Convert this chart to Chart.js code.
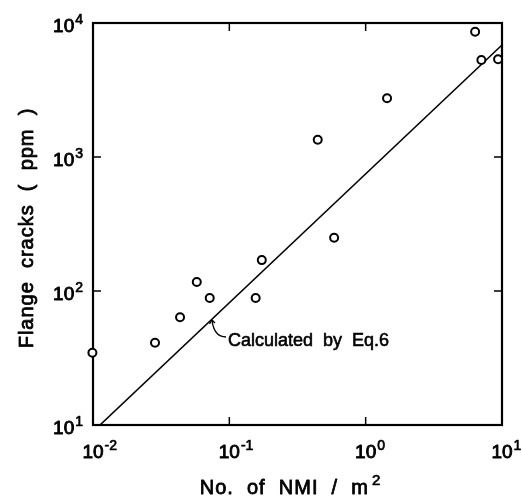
<!DOCTYPE html>
<html>
<head>
<meta charset="utf-8">
<script src="https://cdn.jsdelivr.net/npm/chart.js@4"></script>
<style>
  body { margin: 0; background: #fff; }
  canvas { display: block; }
</style>
</head>
<body>
<canvas id="nmiChart" width="522" height="500"></canvas>
<script>
// measured points: number of NMI per m2 vs flange cracks (ppm)
const nmiPerM2 = [0.0099, 0.0285, 0.0435, 0.0577, 0.0718, 0.156, 0.173, 0.445, 0.587, 1.435, 6.35, 7.06, 9.36];
const crackPpm = [34.6, 41.1, 63.6, 116.7, 88.7, 88.7, 170, 1346, 250, 2742, 8610, 5297, 5357];

// line calculated by Eq.6 (two ends)
const calcNmi = [0.01125, 10];
const calcPpm = [10, 6850];

// decade ticks (exponents of 10)
const xTickExps = [-2, -1, 0, 1];
const yTickExps = [1, 2, 3, 4];

const xTitle = "No.  of  NMI  /  m";
const xTitleSup = "2";
const yTitle = "Flange  cracks  (  ppm  )";
const calcLabel = "Calculated  by  Eq.6";
const calcLabelAt = {x: 0.0978, y: 38.9};
const calcLeaderFrom = {x: 0.0746, y: 60.8};

const FONT = '"Liberation Sans", Arial, sans-serif';

// scanned-looking text: fill plus a thin outline
function ink(ctx, s, x, y, w) {
    ctx.lineWidth = w || 0.7;
    ctx.fillText(s, x, y);
    ctx.strokeText(s, x, y);
}

function drawPower(ctx, exp, px, py, align) {
    // "10" with a raised exponent; 'center' centres the "10" on px, 'right' ends the label at px
    ctx.font = '19px ' + FONT;
    let base = '10';
    let bw = ctx.measureText(base).width;
    ctx.font = '14px ' + FONT;
    let sup = String(exp);
    let sw = ctx.measureText(sup).width;
    let x0 = align === 'right' ? px - bw - sw - 1 : px - bw / 2;
    ctx.textAlign = 'left';
    ctx.textBaseline = 'alphabetic';
    ctx.font = '19px ' + FONT;
    ink(ctx, base, x0, py, 0.9);
    ctx.font = '14px ' + FONT;
    ink(ctx, sup, x0 + bw + 1, py - 8, 0.7);
}

const frame = {
    id: 'frame',
    beforeDatasetsDraw(chart) {
        const {ctx, chartArea: a, scales: {x, y}} = chart;
        ctx.save();
        ctx.strokeStyle = '#000';
        ctx.lineWidth = 2.2;
        ctx.strokeRect(a.left, a.top, a.right - a.left, a.bottom - a.top);
        ctx.lineWidth = 1.5;
        ctx.beginPath();
        xTickExps.forEach(e => {
            let px = x.getPixelForValue(10 ** e);
            ctx.moveTo(px, a.bottom); ctx.lineTo(px, a.bottom - 8);
            ctx.moveTo(px, a.top); ctx.lineTo(px, a.top + 8);
        });
        yTickExps.forEach(e => {
            let py = y.getPixelForValue(10 ** e);
            ctx.moveTo(a.left, py); ctx.lineTo(a.left + 8, py);
            ctx.moveTo(a.right, py); ctx.lineTo(a.right - 8, py);
        });
        ctx.stroke();
        ctx.restore();
    },
    afterDraw(chart) {
        const {ctx, chartArea: a, scales: {x, y}} = chart;
        ctx.save();
        ctx.fillStyle = '#000';
        ctx.strokeStyle = '#000';
        ctx.lineJoin = 'round';

        xTickExps.forEach(e => drawPower(ctx, e < 0 ? '-' + (-e) : e, x.getPixelForValue(10 ** e), a.bottom + 33, 'center'));
        yTickExps.forEach(e => drawPower(ctx, e, a.left - 10, y.getPixelForValue(10 ** e) + 9, 'right'));

        // x title with superscript
        ctx.font = '20px ' + FONT;
        ctx.letterSpacing = '1px';
        let tw = ctx.measureText(xTitle).width;
        ctx.font = '15px ' + FONT;
        let sw = ctx.measureText(xTitleSup).width;
        let tx = (a.left + a.right) / 2 - 7 - (tw + sw + 3) / 2;
        ctx.textAlign = 'left';
        ctx.font = '20px ' + FONT;
        ink(ctx, xTitle, tx, 494, 0.8);
        ctx.font = '15px ' + FONT;
        ink(ctx, xTitleSup, tx + tw + 3, 485, 0.7);

        // y title
        ctx.save();
        ctx.translate(33, (a.top + a.bottom) / 2 + 4);
        ctx.rotate(-Math.PI / 2);
        ctx.font = '20px ' + FONT;
        ctx.letterSpacing = '1px';
        ctx.textAlign = 'center';
        ink(ctx, yTitle, 0, 0, 0.8);
        ctx.restore();

        // label for the calculated line with curved leader
        ctx.letterSpacing = '0px';
        let p0x = x.getPixelForValue(calcLeaderFrom.x), p0y = y.getPixelForValue(calcLeaderFrom.y);
        let lx = x.getPixelForValue(calcLabelAt.x), ly = y.getPixelForValue(calcLabelAt.y);
        ctx.lineWidth = 1.4;
        ctx.beginPath();
        ctx.moveTo(p0x, p0y);
        ctx.quadraticCurveTo(p0x + 2, ly - 9, lx - 2, ly - 9);
        ctx.stroke();
        ctx.beginPath();
        ctx.moveTo(p0x - 2.5, p0y + 4);
        ctx.lineTo(p0x, p0y);
        ctx.lineTo(p0x + 3, p0y + 3);
        ctx.stroke();
        ctx.font = '18px ' + FONT;
        ctx.textAlign = 'left';
        ink(ctx, calcLabel, lx, ly, 0.6);
        ctx.restore();
    }
};

new Chart(document.getElementById('nmiChart'), {
    data: {
        datasets: [
            {
                type: 'scatter',
                data: nmiPerM2.map((v, i) => ({x: v, y: crackPpm[i]})),
                pointStyle: 'circle',
                pointRadius: 4,
                pointBorderWidth: 2,
                pointBorderColor: '#000',
                pointBackgroundColor: '#fff',
                clip: false
            },
            {
                type: 'line',
                data: calcNmi.map((v, i) => ({x: v, y: calcPpm[i]})),
                borderColor: '#000',
                borderWidth: 1.6,
                pointRadius: 0,
                fill: false
            }
        ]
    },
    options: {
        responsive: false,
        animation: false,
        layout: {padding: {left: 93, top: 23, right: 20, bottom: 75}},
        plugins: {legend: {display: false}, tooltip: {enabled: false}},
        scales: {
            x: {
                type: 'logarithmic', min: 0.01, max: 10,
                ticks: {display: false},
                grid: {display: false, drawTicks: false},
                border: {display: false}
            },
            y: {
                type: 'logarithmic', min: 10, max: 10000,
                ticks: {display: false},
                grid: {display: false, drawTicks: false},
                border: {display: false}
            }
        }
    },
    plugins: [frame]
});
</script>
</body>
</html>
